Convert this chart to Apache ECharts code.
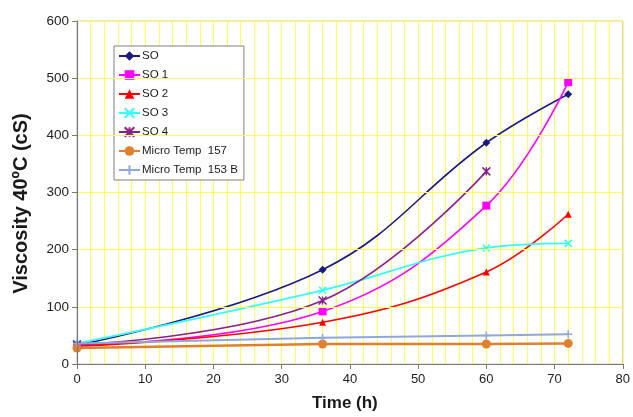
<!DOCTYPE html>
<html>
<head>
<meta charset="utf-8">
<script src="https://cdn.jsdelivr.net/npm/echarts@6/dist/echarts.min.js"></script>
<style>
  html, body { margin: 0; padding: 0; background: #fff; }
  #chart { width: 633px; height: 417px; }
</style>
</head>
<body>
<div id="chart"></div>
<script>
// Sampling times (h)
const times = [0, 36, 60, 72];

// Viscosity at 40 °C (cS) for each oil
const so      = [33, 165, 387, 472];
const so1     = [33, 92, 277, 493];
const so2     = [31, 73, 161, 262];
const so3     = [36, 129, 203, 211];
const so4     = [34, 111, 337];
const mt157   = [28, 35, 35, 36];
const mt153b  = [36, 46, 50, 52];

const xTicks = [0, 10, 20, 30, 40, 50, 60, 70, 80];
const yTicks = [0, 100, 200, 300, 400, 500, 600];

const FONT = '"Liberation Sans", Arial, sans-serif';
const GRID_YELLOW = '#ffff55';

const pts = (vals) => vals.map((v, i) => [times[i], v]);

const crossPath = 'path://M0,0L10,10M10,0L0,10';
const starPath = 'path://M0,0L10,10M10,0L0,10M5,0L5,10';
const plusPath = 'path://M5,0L5,10M0,5L10,5';

function series(name, vals, color, symbol, size, width, smooth, stroked) {
  return {
    name: name,
    type: 'line',
    xAxisIndex: 0,
    data: pts(vals),
    smooth: smooth,
    symbol: symbol,
    symbolSize: size,
    showAllSymbol: true,
    lineStyle: { color: color, width: width },
    itemStyle: stroked
      ? { color: 'rgba(0,0,0,0)', borderColor: color, borderWidth: 1.5 }
      : { color: color, borderWidth: 0 },
    color: color,
    z: 3
  };
}

const chart = echarts.init(document.getElementById('chart'), null, { renderer: 'canvas' });

chart.setOption({
  animation: false,
  backgroundColor: '#ffffff',
  grid: { left: 77, right: 10, top: 21, bottom: 51, show: true, borderColor: '#c8c8c8', borderWidth: 1 },
  legend: {
    orient: 'vertical',
    left: 114,
    top: 46,
    itemWidth: 21,
    itemHeight: 12,
    itemGap: 7,
    padding: [4, 6, 4, 4],
    backgroundColor: '#ffffff',
    borderColor: '#808080',
    borderWidth: 1,
    textStyle: { fontFamily: FONT, fontSize: 11.5, color: '#1a1a1a', padding: [0, 0, 0, -3] },
    data: ['SO', 'SO 1', 'SO 2', 'SO 3', 'SO 4', 'Micro Temp  157', 'Micro Temp  153 B']
  },
  xAxis: [
    {
      // labelled time axis
      type: 'value',
      min: xTicks[0],
      max: xTicks[xTicks.length - 1],
      interval: 10,
      name: 'Time (h)',
      nameLocation: 'middle',
      nameGap: 31,
      nameTextStyle: { fontFamily: FONT, fontSize: 17, fontWeight: 'bold', color: '#1a1a1a', padding: [0, 10, 0, 0] },
      axisLine: { show: true, onZero: false, lineStyle: { color: '#7a7a7a', width: 1.2 } },
      axisTick: { show: true, length: 5, lineStyle: { color: '#7a7a7a' } },
      axisLabel: { fontFamily: FONT, fontSize: 13, color: '#222', margin: 9 },
      splitLine: { show: false },
      z: 5
    },
    {
      // fine vertical gridlines every 2 h
      type: 'value',
      position: 'bottom',
      min: xTicks[0],
      max: xTicks[xTicks.length - 1],
      interval: 2,
      axisLine: { show: false },
      axisTick: { show: false },
      axisLabel: { show: false },
      splitLine: { show: true, lineStyle: { color: GRID_YELLOW, width: 1 } }
    }
  ],
  yAxis: {
    type: 'value',
    min: yTicks[0],
    max: yTicks[yTicks.length - 1],
    interval: 100,
    name: 'Viscosity 40ºC (cS)',
    nameLocation: 'middle',
    nameGap: 46,
    nameRotate: 90,
    nameTextStyle: { fontFamily: FONT, fontSize: 20, fontWeight: 'bold', color: '#1a1a1a', padding: [0, 22, 0, 0] },
    axisLine: { show: true, lineStyle: { color: '#7a7a7a', width: 1.2 } },
    axisTick: { show: true, length: 5, lineStyle: { color: '#7a7a7a' } },
    axisLabel: { fontFamily: FONT, fontSize: 13.5, color: '#222', margin: 8 },
    splitLine: { show: true, lineStyle: { color: GRID_YELLOW, width: 1 } },
    z: 5
  },
  series: [
    series('SO', so, '#1c1c80', 'diamond', 8, 1.6, 0.4, false),
    series('SO 1', so1, '#ff00ff', 'rect', 8, 1.6, 0.4, false),
    series('SO 2', so2, '#ff0000', 'triangle', 7, 1.6, 0.4, false),
    series('SO 3', so3, '#33ffff', crossPath, 7, 1.8, 0.4, true),
    series('SO 4', so4, '#882288', starPath, 8, 1.6, 0.4, true),
    series('Micro Temp  157', mt157, '#e0802f', 'circle', 9, 2.5, false, false),
    series('Micro Temp  153 B', mt153b, '#90a8d8', plusPath, 8, 2, false, true)
  ]
});
</script>
</body>
</html>
